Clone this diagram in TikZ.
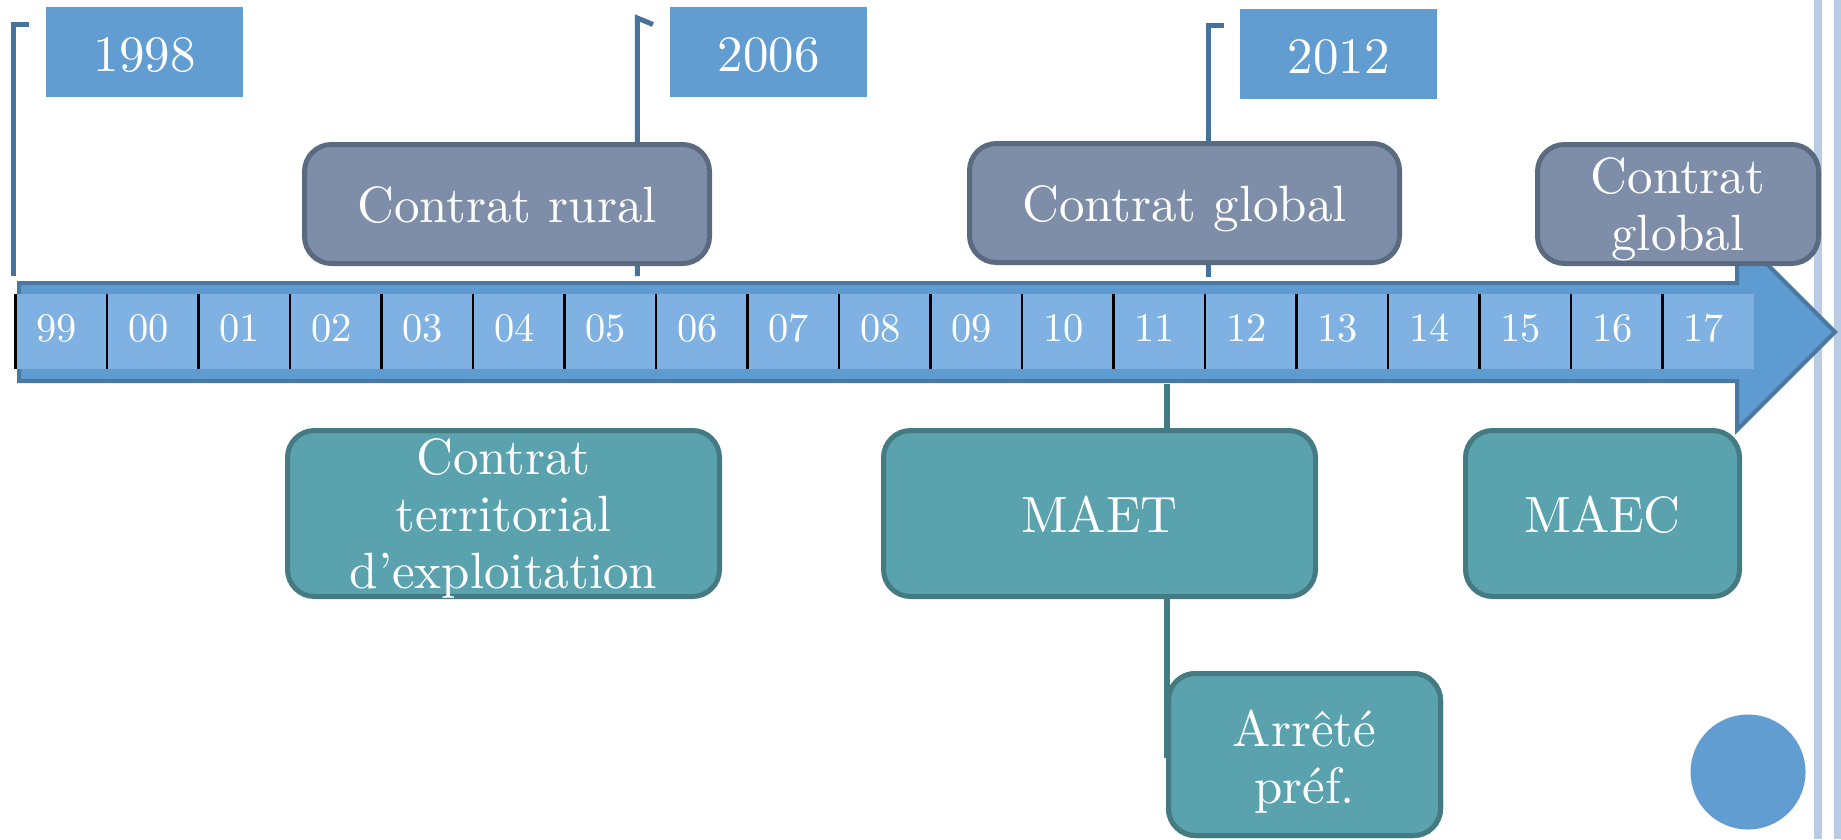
\documentclass[tikz,border=0pt]{standalone}
\DeclareFontFamily{TU}{lmten}{}
\DeclareFontShape{TU}{lmten}{m}{n}{<-> "[lmroman10-regular]:mapping=tex-text"}{}
\definecolor{yearblue}{HTML}{629DD1}
\definecolor{flagline}{HTML}{46739B}
\definecolor{grayfill}{HTML}{7F8EA8}
\definecolor{grayedge}{HTML}{5A6A80}
\definecolor{tealfill}{HTML}{5AA2AE}
\definecolor{tealedge}{HTML}{447A82}
\definecolor{arrowfill}{HTML}{5E9BD0}
\definecolor{arrowedge}{HTML}{4A78A3}
\definecolor{bandfill}{HTML}{7FB1E3}
\definecolor{decor}{HTML}{B9CCE4}
\newcommand\bxfont{\fontencoding{TU}\fontfamily{lmten}\fontseries{m}\fontshape{n}\fontsize{51}{57}\selectfont}
\newcommand\cellfont{\fontencoding{TU}\fontfamily{lmten}\fontseries{m}\fontshape{n}\fontsize{40.5}{48}\selectfont}
\begin{document}
\begin{tikzpicture}[x=1pt,y=-1pt,
  yearbox/.style={fill=yearblue, draw=none, inner sep=0pt, outer sep=0pt, text=white, font=\bxfont, text height=38pt, text depth=0pt, minimum width=197pt, minimum height=90pt},
  graybox/.style={fill=grayfill, draw=grayedge, line width=5pt, rounded corners=27pt, inner sep=0pt, outer sep=0pt, text=white, font=\bxfont, text height=37pt, text depth=0pt},
  tealbox/.style={fill=tealfill, draw=tealedge, line width=5pt, rounded corners=27pt, inner sep=0pt, outer sep=0pt, text=white, font=\bxfont, text height=38pt, text depth=0pt},
  boxtext/.style={text=white, font=\bxfont, align=center, inner sep=0pt},
  celltext/.style={text=white, font=\cellfont, inner sep=0pt, anchor=base},
  flag/.style={draw=flagline, line width=5pt},
  tealline/.style={draw=tealedge, line width=6pt},
  celltick/.style={draw=black, line width=2.2pt}
]
% canvas
\fill[white] (0,0) rectangle (1841,839);
\useasboundingbox (0,0) rectangle (1841,839);
% slide decoration lines
\fill[decor] (1814,0) rectangle (1822,839);
\fill[decor] (1834,0) rectangle (1841,839);

% flag poles
\coordinate (f1b) at (13.3,276); \coordinate (f1t) at (13.3,24.5); \coordinate (f1h) at (29,24.5);
\coordinate (f2b) at (637.3,276); \coordinate (f2t) at (637.3,18); \coordinate (f2h) at (653,24.5);
\coordinate (f3b) at (1208,277); \coordinate (f3t) at (1208,25.5); \coordinate (f3h) at (1224,25.5);
\draw[flag] (f1b) -- (f1t) -- (f1h);
\draw[flag] (f2b) -- (f2t) -- (f2h);
\draw[flag] (f3b) -- (f3t) -- (f3h);

% timeline arrow
\draw[fill=arrowfill, draw=arrowedge, line width=4pt]
  (19,283) -- (1737,283) -- (1737,234) -- (1835,332) -- (1737,430) -- (1737,381) -- (19,381) -- cycle;
\fill[bandfill] (15,294) rectangle (1754,369);
\foreach \i in {0,...,18} \draw[celltick] ({15.5+91.5*\i},294) -- ({15.5+91.5*\i},369);
\foreach \lab [count=\i from 0] in {99,00,01,02,03,04,05,06,07,08,09,10,11,12,13,14,15,16,17}
  \node[celltext] (cell\i) at ({15.5+91.5*(\i+0.5)-4.5},341.5) {\lab};

% year boxes
\node[yearbox] (y1998) at (144.5,52) {1998};
\node[yearbox] (y2006) at (768.5,52) {2006};
\node[yearbox] (y2012) at (1338.5,54) {2012};

% connector from timeline (2011) to MAET and the prefectoral decree
\coordinate (t11) at (1167,384);

% upper boxes
\node[graybox, minimum width=405pt, minimum height=119pt] (rural) at (507,204) {Contrat rural};
\node[graybox, minimum width=430pt, minimum height=119pt] (globalA) at (1184.5,203) {Contrat global};
\node[graybox, minimum width=281pt, minimum height=119pt] (globalB) at (1678,204) {};
\node[boxtext] (globalBt) at (1678,208.9) {Contrat\\global};

% lower boxes
\node[tealbox, minimum width=432pt, minimum height=166pt] (cte) at (503.5,513.5) {};
\node[boxtext] (ctet) at (503.5,518.9) {Contrat\\territorial\\d’exploitation};
\node[tealbox, minimum width=272pt, minimum height=162pt] (arrete) at (1304.5,754.5) {};
\draw[tealline] (t11) |- (arrete.west);
\node[tealbox, minimum width=272pt, minimum height=162pt] (arrete) at (1304.5,754.5) {};
\node[boxtext] (arretet) at (1304.5,761.4) {Arrêté\\préf.};
\node[tealbox, minimum width=432pt, minimum height=166pt] (maet) at (1099.5,513.5) {MAET};
\node[tealbox, minimum width=274pt, minimum height=166pt] (maec) at (1602.5,513.5) {MAEC};

% decorative dot
\node[circle, fill=yearblue, draw=none, minimum size=115pt, inner sep=0pt] (dot) at (1748,772) {};
\end{tikzpicture}
\end{document}
